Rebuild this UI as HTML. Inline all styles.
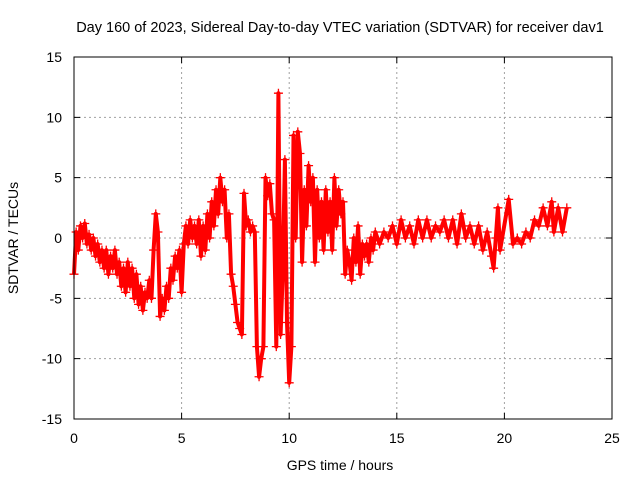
<!DOCTYPE html>
<html><head><meta charset="utf-8"><style>
html,body{margin:0;padding:0;background:#fff;}
svg{display:block;font-family:"Liberation Sans",sans-serif;}
</style></head><body>
<svg id="chart" width="640" height="480">
<text x="340" y="32" font-size="14.5" text-anchor="middle">Day 160 of 2023, Sidereal Day-to-day VTEC variation (SDTVAR) for receiver dav1</text>
<g id="grid"></g>
<g id="axes"></g>
<g id="marks"></g>
<rect x="74" y="57" width="538" height="362" fill="none" stroke="#000" stroke-width="1"/>
<text x="340" y="470" font-size="14" text-anchor="middle">GPS time / hours</text>
<text transform="translate(18,238) rotate(-90)" font-size="14" text-anchor="middle">SDTVAR / TECUs</text>
</svg>
<script>
const xTicks=[0,5,10,15,20,25];
const yTicks=[-15,-10,-5,0,5,10,15];
const hours=[0,0.1,0.2,0.3,0.4,0.5,0.6,0.7,0.8,0.9,1.0,1.1,1.2,1.3,1.4,1.5,1.6,1.7,1.8,1.9,2.0,2.1,2.2,2.3,2.4,2.5,2.6,2.7,2.8,2.9,3.0,3.1,3.2,3.3,3.4,3.5,3.6,3.7,3.8,3.9,4.0,4.1,4.2,4.3,4.4,4.5,4.6,4.7,4.8,4.9,5.0,5.1,5.2,5.3,5.4,5.5,5.6,5.7,5.8,5.9,6.0,6.1,6.2,6.3,6.4,6.5,6.6,6.7,6.8,6.9,7.0,7.1,7.2,7.3,7.4,7.5,7.6,7.7,7.8,7.9,8.0,8.1,8.2,8.3,8.4,8.5,8.6,8.7,8.8,8.9,9.0,9.1,9.2,9.3,9.4,9.5,9.6,9.7,9.8,9.9,10.0,10.1,10.2,10.3,10.4,10.5,10.6,10.7,10.8,10.9,11.0,11.1,11.2,11.3,11.4,11.5,11.6,11.7,11.8,11.9,12.0,12.1,12.2,12.3,12.4,12.5,12.6,12.7,12.8,12.9,13.0,13.1,13.2,13.3,13.4,13.5,13.6,13.7,13.8,13.9,14.0,14.2,14.4,14.6,14.8,15.0,15.2,15.4,15.6,15.8,16.0,16.2,16.4,16.6,16.8,17.0,17.2,17.4,17.6,17.8,18.0,18.2,18.4,18.6,18.8,19.0,19.2,19.4,19.5,19.6,19.7,19.8,20.2,20.4,20.6,20.8,21.0,21.2,21.4,21.6,21.8,22.0,22.2,22.3,22.5,22.7,22.9];
const sdtvar=[-3,0.5,-1,1,0,1.2,-0.5,0.3,-1,0,-1.5,-0.5,-2,-1,-2.5,-1,-3,-1.5,-2.5,-1,-3,-2,-4,-2.5,-4.5,-2,-4,-2.5,-5,-3,-5.5,-4,-6,-4.5,-5,-3.5,-5,-1,2,0.5,-6.5,-5,-6,-4,-5,-2.5,-3.5,-1.5,-2.5,-1,-4.5,-0.5,1,-0.5,1.5,0,1,-0.5,1.5,-1.5,1,-1,2,0,3,1,4,2,5,3,4,0,2,-3,-4,-5.5,-7,-7.5,-8,3.7,1,1.5,0.5,1,0.5,-9,-11.5,-10,-9,5,3.5,4.5,2,1.5,-9,12,-8,-3,6.5,-7,-12,-9,8.5,0,8.8,7,-2,4,1,6,3,5,-2,4,0,3,-1,4,0.5,3,-1,5,1,4,2,3,-3,-1,-2,-3.5,0,-2,1,-3,-0.5,-1.5,-0.5,-2,0,-1,0.5,-0.5,0.5,0,1,-0.5,1.5,0,1,-0.5,1.5,0,1.5,0,1,0.5,1.5,0,1.5,-0.5,2,0,1,-0.5,1,-1,0.5,-1.5,-2.5,0,2.5,-1,3.2,-0.5,0,-0.5,0.5,0,1.5,1,2.5,1,3,0.5,2.5,0.5,2.5];
const NS='http://www.w3.org/2000/svg';
const X0=74,X1=612,Y0=419,Y1=57;
function xs(v){return X0+(v-0)/(25-0)*(X1-X0);}
function ys(v){return Y0-(v+15)/30*(Y0-Y1);}
const grid=document.getElementById('grid'),axes=document.getElementById('axes'),marks=document.getElementById('marks');
xTicks.forEach(t=>{
  const x=xs(t);
  if(t>0&&t<25){const l=document.createElementNS(NS,'line');l.setAttribute('x1',x);l.setAttribute('x2',x);l.setAttribute('y1',Y1);l.setAttribute('y2',Y0);l.setAttribute('stroke','#a0a0a0');l.setAttribute('stroke-dasharray','2,3');
  
  
  grid.appendChild(l);}
  const tk=document.createElementNS(NS,'path');tk.setAttribute('d',`M${x},${Y0}v-6M${x},${Y1}v6`);tk.setAttribute('stroke','#000');
  
  
  axes.appendChild(tk);
  const tx=document.createElementNS(NS,'text');tx.setAttribute('x',x);tx.setAttribute('y',443);tx.setAttribute('font-size','14');tx.setAttribute('text-anchor','middle');tx.textContent=t;
  
  
  axes.appendChild(tx);
});
yTicks.forEach(t=>{
  const y=ys(t);
  if(t>-15&&t<15){const l=document.createElementNS(NS,'line');l.setAttribute('x1',X0);l.setAttribute('x2',X1);l.setAttribute('y1',y);l.setAttribute('y2',y);l.setAttribute('stroke','#a0a0a0');l.setAttribute('stroke-dasharray','2,3');
  
  
  grid.appendChild(l);}
  const tk=document.createElementNS(NS,'path');tk.setAttribute('d',`M${X0},${y}h6M${X1},${y}h-6`);tk.setAttribute('stroke','#000');
  
  
  axes.appendChild(tk);
  const tx=document.createElementNS(NS,'text');tx.setAttribute('x',62);tx.setAttribute('y',y+5);tx.setAttribute('font-size','14');tx.setAttribute('text-anchor','end');tx.textContent=t;
  
  
  axes.appendChild(tx);
});
let d='';
hours.forEach((h,i)=>{d+=(i?'L':'M')+xs(h).toFixed(1)+','+ys(sdtvar[i]).toFixed(1);});
const pl=document.createElementNS(NS,'path');pl.setAttribute('d',d);pl.setAttribute('fill','none');pl.setAttribute('stroke','#ff0000');pl.setAttribute('stroke-width','4');pl.setAttribute('stroke-linejoin','round');


marks.appendChild(pl);
hours.forEach((h,i)=>{
  const x=xs(h),y=ys(sdtvar[i]);
  const p=document.createElementNS(NS,'path');p.setAttribute('d',`M${x-4.5},${y}h9M${x},${y-4.5}v9`);p.setAttribute('stroke','#ff0000');p.setAttribute('stroke-width','1.3');
  
  
  marks.appendChild(p);
});
</script>
</body></html>
